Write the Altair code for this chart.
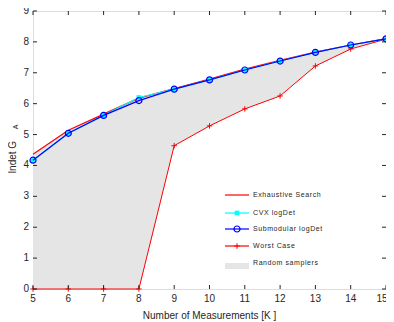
import altair as alt
import pandas as pd

K = [5, 6, 7, 8, 9, 10, 11, 12, 13, 14, 15]
exhaustive = [4.36, 5.14, 5.66, 6.18, 6.49, 6.80, 7.12, 7.40, 7.67, 7.90, 8.11]
cvx = [4.17, 5.04, 5.62, 6.20, 6.47, 6.77, 7.09, 7.38, 7.66, 7.90, 8.10]
submodular = [4.17, 5.04, 5.62, 6.10, 6.47, 6.77, 7.09, 7.38, 7.66, 7.90, 8.10]
worst = [0, 0, 0, 0, 4.64, 5.28, 5.83, 6.25, 7.22, 7.77, 8.09]

xticks = [5, 6, 7, 8, 9, 10, 11, 12, 13, 14, 15]
yticks = [0, 1, 2, 3, 4, 5, 6, 7, 8, 9]

legend_labels = ["Exhaustive Search", "CVX logDet", "Submodular logDet", "Worst Case", "Random samplers"]
legend_colors = ["#ff0000", "#00ffff", "#0000ff", "#ff0000", "#e5e5e5"]
legend_py = [184, 202, 218, 235, 252]

x_title = "Number of Measurements [K ]"
y_title = "lndet G"
y_sub = "A"

W, H = 353, 278
FRAME = "#262626"
FONT = "Liberation Sans"

df = pd.DataFrame({"K": K, "ex": exhaustive, "cvx": cvx, "sub": submodular, "worst": worst})

xs = alt.Scale(domain=[5, 15], nice=False, zero=False)
ys = alt.Scale(domain=[0, 9], nice=False)

xax = alt.Axis(labels=False, ticks=False, domain=False, grid=False, title=None)
yax = alt.Axis(labels=False, ticks=False, domain=False, grid=False, title=None)

base = alt.Chart(df)

area = base.mark_area(color="#e5e5e5", opacity=1).encode(
    x=alt.X("K:Q", scale=xs, axis=xax),
    y=alt.Y("worst:Q", scale=ys, axis=yax),
    y2="ex:Q",
)

ex_line = base.mark_line(color="#ff0000", strokeWidth=1.2).encode(x="K:Q", y="ex:Q")
worst_line = base.mark_line(color="#ff0000", strokeWidth=1).encode(x="K:Q", y="worst:Q")
worst_pts = base.mark_point(shape="M-1,0H1M0,-1V1", color="#ff0000", filled=False,
                            strokeWidth=1, size=30, opacity=1).encode(x="K:Q", y="worst:Q")
cvx_line = base.mark_line(color="#00ffff", strokeWidth=1.2).encode(x="K:Q", y="cvx:Q")
cvx_pts = base.mark_point(shape="square", color="#00ffff", filled=True, size=22,
                          opacity=1).encode(x="K:Q", y="cvx:Q")
sub_line = base.mark_line(color="#0000ff", strokeWidth=1.2).encode(x="K:Q", y="sub:Q")
sub_pts = base.mark_point(shape="circle", color="#0000ff", filled=False, size=36,
                          strokeWidth=1.2, opacity=1).encode(x="K:Q", y="sub:Q")

# inward ticks on four sides + tick labels
xt = alt.Chart(pd.DataFrame({"t": xticks, "lab": [str(v) for v in xticks]}))
yt = alt.Chart(pd.DataFrame({"t": yticks, "lab": [str(v) for v in yticks]}))
tick_b = xt.mark_rule(color=FRAME, strokeWidth=1).encode(
    x=alt.X("t:Q", scale=xs, axis=xax), y=alt.value(H), y2=alt.value(H - 4))
tick_t = xt.mark_rule(color=FRAME, strokeWidth=1).encode(
    x=alt.X("t:Q", scale=xs, axis=xax), y=alt.value(0), y2=alt.value(4))
tick_l = yt.mark_rule(color=FRAME, strokeWidth=1).encode(
    y=alt.Y("t:Q", scale=ys, axis=yax), x=alt.value(0), x2=alt.value(4))
tick_r = yt.mark_rule(color=FRAME, strokeWidth=1).encode(
    y=alt.Y("t:Q", scale=ys, axis=yax), x=alt.value(W), x2=alt.value(W - 4))
xlab = xt.transform_filter(alt.datum.t < 15).mark_text(
    fontSize=10, font=FONT, color=FRAME, align="center", baseline="middle").encode(
    x=alt.X("t:Q", scale=xs, axis=xax), y=alt.value(H + 10), text="lab:N")
xlab_last = xt.transform_filter(alt.datum.t == 15).mark_text(
    fontSize=10, font=FONT, color=FRAME, align="center", baseline="middle", dx=-4).encode(
    x=alt.X("t:Q", scale=xs, axis=xax), y=alt.value(H + 10), text="lab:N")
ylab = yt.mark_text(fontSize=10, font=FONT, color=FRAME, align="right", baseline="middle").encode(
    y=alt.Y("t:Q", scale=ys, axis=yax), x=alt.value(-4), text="lab:N")

# axis titles
ttd = alt.Chart(pd.DataFrame({"xt": [x_title], "t": [y_title], "s": [y_sub]}))
xtitle = ttd.mark_text(fontSize=10, font=FONT, color=FRAME, align="center",
                       baseline="middle").encode(text="xt:N", x=alt.value(W / 2), y=alt.value(305))
ytitle = ttd.mark_text(angle=270, fontSize=10, font=FONT, color=FRAME, align="center",
                       baseline="middle").encode(text="t:N", x=alt.value(-20), y=alt.value(146))
ysub = ttd.mark_text(angle=270, fontSize=7, font=FONT, color=FRAME, align="center",
                     baseline="middle").encode(text="s:N", x=alt.value(-17), y=alt.value(116))

# legend
def spaced(s):
    return "\u200a".join(list(s))

ldf = pd.DataFrame({"label": [spaced(s) for s in legend_labels], "col": legend_colors, "py": legend_py,
                    "kind": ["line", "line", "line", "line", "patch"]})
lc = alt.Chart(ldf)
lines = lc.transform_filter(alt.datum.kind == "line").mark_rule(strokeWidth=1.2).encode(
    x=alt.value(192), x2=alt.value(216), y=alt.Y("py:Q", scale=None), color=alt.Color("col:N", scale=None))
patch = lc.transform_filter(alt.datum.kind == "patch").mark_rect().encode(
    x=alt.value(192), x2=alt.value(216), y=alt.Y("py:Q", scale=None), y2=alt.value(258),
    color=alt.Color("col:N", scale=None))
lpt_sq = lc.transform_filter(alt.datum.label == spaced(legend_labels[1])).mark_point(
    shape="square", filled=True, size=22, opacity=1, color="#00ffff").encode(
    x=alt.value(204), y=alt.Y("py:Q", scale=None))
lpt_ci = lc.transform_filter(alt.datum.label == spaced(legend_labels[2])).mark_point(
    shape="circle", filled=False, size=36, strokeWidth=1.2, opacity=1, color="#0000ff").encode(
    x=alt.value(204), y=alt.Y("py:Q", scale=None))
lpt_pl = lc.transform_filter(alt.datum.label == spaced(legend_labels[3])).mark_point(
    shape="M-1,0H1M0,-1V1", filled=False, size=30, strokeWidth=1, opacity=1, color="#ff0000").encode(
    x=alt.value(204), y=alt.Y("py:Q", scale=None))
ltext = lc.mark_text(align="left", baseline="middle", fontSize=7, font=FONT, color=FRAME).encode(
    x=alt.value(220), y=alt.Y("py:Q", scale=None), text="label:N")

chart = alt.layer(
    area, ex_line, worst_line, worst_pts, cvx_line, cvx_pts, sub_line, sub_pts,
    tick_b, tick_t, tick_l, tick_r, xlab, xlab_last, ylab, xtitle, ytitle, ysub,
    patch, lines, lpt_sq, lpt_ci, lpt_pl, ltext,
).properties(
    width=W, height=H,
    autosize=alt.AutoSizeParams(type="none"),
    padding={"left": 25, "top": 3, "right": 0, "bottom": 33},
).configure_view(stroke=FRAME, strokeWidth=1).configure(background="white")

chart.save("out.html", embed_options={"renderer": "svg", "actions": False})
